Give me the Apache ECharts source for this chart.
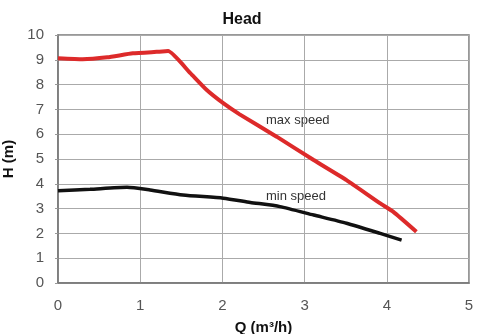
<!DOCTYPE html>
<html>
<head>
<meta charset="utf-8">
<script src="https://cdn.jsdelivr.net/npm/echarts@6/dist/echarts.min.js"></script>
<style>
    html, body { margin: 0; padding: 0; background: #fff; }
    #chart { width: 478px; height: 334px; }
</style>
</head>
<body>
<div id="chart"></div>
<script>
// Q (m3/h) / H (m)
var maxQ = [0, 0.3, 0.6, 0.91, 1.2, 1.34, 1.61, 1.81, 2.01, 2.21, 2.66, 3.11, 3.51, 3.92, 4.08, 4.36];
var maxH = [9.06, 9.02, 9.1, 9.26, 9.32, 9.35, 8.46, 7.78, 7.25, 6.8, 5.9, 4.96, 4.15, 3.21, 2.87, 2.07];
var minQ = [0, 0.39, 0.84, 1.12, 1.52, 2.01, 2.34, 2.7, 3.11, 3.51, 3.92, 4.18];
var minH = [3.72, 3.78, 3.86, 3.75, 3.55, 3.42, 3.25, 3.08, 2.74, 2.41, 2.0, 1.73];
var xTicks = [0, 1, 2, 3, 4, 5];
var yTicks = [0, 1, 2, 3, 4, 5, 6, 7, 8, 9, 10];

function pairs(xs, ys) {
    return xs.map(function (x, i) { return [x, ys[i]]; });
}

var chart = echarts.init(document.getElementById('chart'));
var lbl = { color: '#555', fontSize: 15, fontFamily: 'Liberation Sans' };
var nameStyle = { fontSize: 15, fontWeight: 'bold', color: '#111', fontFamily: 'Liberation Sans' };
chart.setOption({
    animation: false,
    title: {
        text: 'Head',
        left: 237, top: 7, textAlign: 'center',
        textStyle: { fontSize: 16, fontWeight: 'bold', color: '#111', fontFamily: 'Liberation Sans' }
    },
    grid: {
        left: 58, right: 9, top: 35, bottom: 51,
        containLabel: false, outerBoundsMode: 'none',
        show: true, borderColor: '#777', borderWidth: 1.5
    },
    xAxis: {
        type: 'value',
        min: xTicks[0], max: xTicks[xTicks.length - 1], interval: 1,
        name: 'Q (m³/h)', nameLocation: 'middle', nameGap: 37,
        nameTextStyle: nameStyle,
        axisLine: { lineStyle: { color: '#777', width: 1.5 } },
        axisTick: { show: false },
        axisLabel: Object.assign({ margin: 15 }, lbl),
        splitLine: { lineStyle: { color: '#aaa' } }
    },
    yAxis: {
        type: 'value',
        min: yTicks[0], max: yTicks[yTicks.length - 1], interval: 1,
        name: 'H (m)', nameLocation: 'middle', nameGap: 34, nameRotate: 90,
        nameTextStyle: nameStyle,
        axisLine: { lineStyle: { color: '#777', width: 1.5 } },
        axisTick: { show: true, length: 3, lineStyle: { color: '#999' } },
        axisLabel: Object.assign({ margin: 14 }, lbl),
        splitLine: { lineStyle: { color: '#aaa' } }
    },
    series: [
        {
            name: 'max speed', type: 'line', showSymbol: false, smooth: 0.15,
            lineStyle: { color: '#dd2a2a', width: 4 },
            data: pairs(maxQ, maxH)
        },
        {
            name: 'min speed', type: 'line', showSymbol: false, smooth: 0.2,
            lineStyle: { color: '#111', width: 3.5 },
            data: pairs(minQ, minH)
        }
    ],
    graphic: [
        { type: 'text', left: 266, top: 114, style: { text: 'max speed', fontSize: 13, fill: '#333', fontFamily: 'Liberation Sans' } },
        { type: 'text', left: 266, top: 190, style: { text: 'min speed', fontSize: 13, fill: '#333', fontFamily: 'Liberation Sans' } }
    ]
});
</script>
</body>
</html>
